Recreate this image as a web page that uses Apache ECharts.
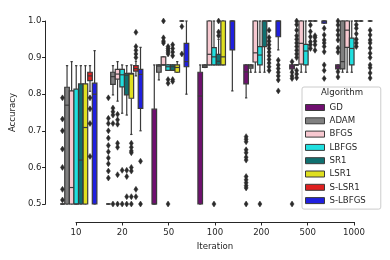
<!DOCTYPE html>
<html>
<head>
<meta charset="utf-8">
<script src="https://cdn.jsdelivr.net/npm/echarts@6/dist/echarts.min.js"></script>
<style>html,body{margin:0;padding:0;background:#fff}#c{width:390px;height:260px}</style>
</head>
<body>
<div id="c"></div>
<script>
// ---------------- data ----------------
const categories = ['10', '20', '50', '100', '200', '500', '1000'];
const algorithms = ['GD', 'ADAM', 'BFGS', 'LBFGS', 'SR1', 'LSR1', 'S-LSR1', 'S-LBFGS'];
const yTicks = [0.5, 0.6, 0.7, 0.8, 0.9, 1.0];

// box statistics per category: [low whisker, q1, median, q3, high whisker]
const boxGD = [[0.5,0.5,0.5,0.5,0.5],[0.5,0.5,0.5,0.5,0.5],[0.5,0.5,0.5,0.759,0.88],[0.5,0.5,0.795,0.86,0.88],[0.79,0.828,0.861,0.88,0.88],[0.865,0.869,0.875,0.88,0.88],[0.865,0.869,0.875,0.88,0.88]];
const boxADAM = [[0.5,0.5,0.77,0.819,0.878],[0.798,0.827,0.848,0.86,0.878],[0.839,0.86,0.877,0.88,0.88],[0.873,0.873,0.877,0.88,0.88],[0.86,0.871,0.877,0.88,0.88],[0.88,0.88,0.88,0.88,0.88],[0.86,0.869,0.889,1.0,1.0]];
const boxBFGS = [[0.5,0.5,0.545,0.809,0.889],[0.781,0.841,0.855,0.868,0.889],[0.88,0.88,0.88,0.902,0.902],[0.88,0.88,0.909,1.0,1.0],[0.86,0.888,0.913,1.0,1.0],[0.86,0.882,0.939,1.0,1.0],[0.86,0.928,0.975,1.0,1.0]];
const boxLBFGS = [[0.5,0.5,0.5,0.814,0.878],[0.748,0.82,0.853,0.868,0.88],[0.865,0.865,0.875,0.88,0.88],[0.88,0.88,0.902,0.927,1.0],[0.86,0.88,0.907,0.93,1.0],[0.86,0.88,0.918,0.936,1.0],[0.86,0.88,0.925,0.953,1.0]];
const boxSR1 = [[0.5,0.5,0.62,0.828,0.878],[0.743,0.798,0.852,0.857,0.878],[0.865,0.865,0.875,0.88,0.88],[0.88,0.88,0.89,0.909,0.95],[0.86,0.93,1.0,1.0,1.0],[1.0,1.0,1.0,1.0,1.0],[1.0,1.0,1.0,1.0,1.0]];
const boxLSR1 = [[0.5,0.5,0.709,0.828,0.878],[0.69,0.789,0.855,0.857,0.88],[0.86,0.86,0.873,0.88,0.889],[0.88,0.88,0.902,1.0,1.0],[1.0,1.0,1.0,1.0,1.0],[1.0,1.0,1.0,1.0,1.0],[1.0,1.0,1.0,1.0,1.0]];
const boxSLSR1 = [[0.808,0.837,0.85,0.86,0.878],[0.85,0.863,0.87,0.878,0.89],[1.0,1.0,1.0,1.0,1.0],null,null,null,null];
const boxSLBFGS = [[0.5,0.5,0.80,0.83,0.919],[0.70,0.761,0.854,0.868,0.928],[0.80,0.875,0.889,0.939,1.0],[0.809,0.921,1.0,1.0,1.0],[0.921,0.957,1.0,1.0,1.0],[0.994,0.994,1.0,1.0,1.0],[1.0,1.0,1.0,1.0,1.0]];

// outliers per category
const outGD = [[0.79,0.732,0.70,0.65,0.60,0.54,0.511],[0.79,0.734,0.72,0.70,0.68,0.66,0.643,0.626,0.61,0.59,0.571],[],[],[0.684,0.677,0.67,0.648,0.64,0.628,0.62,0.575,0.566,0.558,0.55,0.544,0.5],[0.889,0.86,0.85,0.843,0.5],[1.0,0.989,0.975,0.962,0.948,0.926,0.915,0.861,0.847]];
const outADAM = [[],[0.762,0.752,0.743,0.72,0.5],[],[],[],[1.0,0.99,0.975,0.96,0.95,0.94,0.93,0.92,0.91,0.90,0.865,0.855,0.845],[]];
const outBFGS = [[],[0.745,0.73,0.718,0.666,0.655,0.58,0.5],[1.0,0.954,0.945,0.94],[],[],[],[]];
const outLBFGS = [[],[0.592,0.5],[0.93,0.925,0.92,0.915,0.91,0.84,0.83,0.5],[0.5],[0.5],[],[]];
const outSR1 = [[],[0.592,0.575,0.52,0.5],[0.935,0.925,0.915,0.905,0.84,0.835],[1.0,0.97,0.96],[],[0.989,0.971,0.957,0.943,0.935,0.925],[0.99,0.98,0.965,0.95,0.94,0.93]];
const outLSR1 = [[],[0.666,0.655,0.645,0.64,0.6,0.59,0.52,0.5],[],[],[0.975,0.955,0.945,0.935,0.925,0.915,0.905,0.895,0.885,0.875,0.865],[0.96,0.955,0.945,0.935,0.92],[]];
const outSLSR1 = [[0.79,0.76,0.72,0.63],[0.969,0.93,0.92,0.91,0.90,0.54,0.52],[0.985,0.91],[],[],[],[]];
const outSLBFGS = [[],[0.617,0.5],[],[],[0.893,0.88,0.87,0.86,0.85,0.839,0.809],[0.98,0.962,0.948,0.94,0.93,0.916,0.88,0.865,0.843],[0.975,0.962,0.948,0.94,0.926,0.912,0.90,0.88,0.872,0.858,0.844]];

const boxes = [boxGD, boxADAM, boxBFGS, boxLBFGS, boxSR1, boxLSR1, boxSLSR1, boxSLBFGS];
const outliers = [outGD, outADAM, outBFGS, outLBFGS, outSR1, outLSR1, outSLSR1, outSLBFGS];

// ---------------- style ----------------
const colors = ['#701070', '#808080', '#f7c8d0', '#20dfdf', '#107070', '#dfdf20', '#df2020', '#2020df'];
const EDGE = '#3a3a3a';
const FLIER = '#2b2b2b';
const FONT = 'DejaVu Sans';
const TXT = '#262626';
const Y_MIN = 0.5, Y_MAX = 1.0;
const HUES = algorithms.length;

function boxRenderer(h) {
  return function (params, api) {
    const cat = api.value(0);
    const c = api.coord([cat, 0.75]);
    const bw = api.size([1, 0])[0];
    const w = bw * 0.8 / HUES;
    const x0 = c[0] - bw * 0.4 + h * w;
    const xm = x0 + w / 2;
    const Y = v => api.coord([cat, Math.min(Math.max(v, Y_MIN), Y_MAX)])[1];
    const lo = Y(api.value(1)), q1 = Y(api.value(2)), md = Y(api.value(3)), q3 = Y(api.value(4)), hi = Y(api.value(5));
    const st = { stroke: EDGE, lineWidth: 1.2 };
    const cw = w * 0.5;
    return {
      type: 'group',
      children: [
        { type: 'line', shape: { x1: xm, y1: q3, x2: xm, y2: hi }, style: st },
        { type: 'line', shape: { x1: xm, y1: q1, x2: xm, y2: lo }, style: st },
        { type: 'line', shape: { x1: xm - cw / 2, y1: hi, x2: xm + cw / 2, y2: hi }, style: st },
        { type: 'line', shape: { x1: xm - cw / 2, y1: lo, x2: xm + cw / 2, y2: lo }, style: st },
        { type: 'rect', shape: { x: x0, y: q3, width: w, height: q1 - q3 }, style: { fill: colors[h], stroke: EDGE, lineWidth: 1.2 } },
        { type: 'line', shape: { x1: x0, y1: md, x2: x0 + w, y2: md }, style: st }
      ]
    };
  };
}

function flierRenderer(params, api) {
  const cat = api.value(0), h = api.value(1), v = api.value(2);
  const c = api.coord([cat, v]);
  const bw = api.size([1, 0])[0];
  const w = bw * 0.8 / HUES;
  const x = c[0] - bw * 0.4 + h * w + w / 2;
  const y = c[1];
  return {
    type: 'polygon',
    shape: { points: [[x, y - 3], [x + 2, y], [x, y + 3], [x - 2, y]] },
    style: { fill: FLIER, stroke: FLIER, lineWidth: 0.5 }
  };
}

const series = [];
algorithms.forEach((name, h) => {
  const data = [];
  boxes[h].forEach((s, i) => { if (s) data.push([i].concat(s)); });
  series.push({
    name: name, type: 'custom', xAxisIndex: 0, yAxisIndex: 0,
    renderItem: boxRenderer(h), data: data,
    itemStyle: { color: colors[h] },
    encode: { x: 0, y: [1, 2, 3, 4, 5] }
  });
});
const flierData = [];
algorithms.forEach((name, h) => {
  outliers[h].forEach((arr, i) => arr.forEach(v => { if (v >= Y_MIN) flierData.push([i, h, v]); }));
});
series.push({
  name: 'outliers', type: 'custom', xAxisIndex: 0, yAxisIndex: 0,
  renderItem: flierRenderer, data: flierData, z: 3,
  encode: { x: 0, y: 2 }
});

const chart = echarts.init(document.getElementById('c'), null, { renderer: 'canvas' });
chart.setOption({
  animation: false,
  backgroundColor: '#fff',
  textStyle: { fontFamily: FONT },
  title: {
    text: 'Algorithm', left: 342, top: 88, textAlign: 'center', padding: 0, z: 10,
    textStyle: { fontFamily: FONT, fontSize: 8.6, fontWeight: 'normal', color: TXT }
  },
  legend: {
    orient: 'vertical', left: 302, top: 87,
    padding: [15, 15, 3, 3], itemWidth: 19, itemHeight: 6, itemGap: 2.3, itemTextGap: 6.4,
    backgroundColor: 'rgba(255,255,255,0.85)', borderColor: '#cccccc', borderWidth: 1, borderRadius: 2,
    selectedMode: false,
    textStyle: { fontFamily: FONT, fontSize: 8.6, lineHeight: 11, color: TXT },
    data: algorithms.map((n, h) => ({ name: n, icon: 'rect', itemStyle: { color: colors[h], borderColor: EDGE, borderWidth: 1 } }))
  },
  grid: [
    { left: 53, right: 13, top: 21, bottom: 56 },
    { left: 76, right: 36, top: 21, bottom: 56 }
  ],
  xAxis: [
    { type: 'category', gridIndex: 0, data: categories, boundaryGap: true, show: false },
    {
      type: 'category', gridIndex: 1, data: categories, boundaryGap: false, offset: 18,
      name: 'Iteration', nameLocation: 'middle', nameGap: 19,
      nameTextStyle: { fontFamily: FONT, fontSize: 8.6, color: TXT },
      axisLine: { lineStyle: { color: TXT, width: 1 } },
      axisTick: { length: 3.5, lineStyle: { color: TXT, width: 1 } },
      axisLabel: { fontFamily: FONT, fontSize: 8.6, color: TXT, margin: 6 },
      splitLine: { show: false }
    }
  ],
  yAxis: [
    {
      type: 'value', gridIndex: 0, min: Y_MIN, max: Y_MAX, interval: 0.1, offset: 10,
      name: 'Accuracy', nameLocation: 'middle', nameGap: 25,
      nameTextStyle: { fontFamily: FONT, fontSize: 8.6, color: TXT },
      axisLine: { show: true, lineStyle: { color: TXT, width: 1 } },
      axisTick: { show: true, length: 3.5, lineStyle: { color: TXT, width: 1 } },
      axisLabel: { fontFamily: FONT, fontSize: 8.6, color: TXT, margin: 4,
        formatter: v => yTicks.some(t => Math.abs(t - v) < 1e-9) ? v.toFixed(1) : '' },
      splitLine: { show: false }
    },
    { type: 'value', gridIndex: 1, min: Y_MIN, max: Y_MAX, show: false }
  ],
  series: series
});
</script>
</body>
</html>
